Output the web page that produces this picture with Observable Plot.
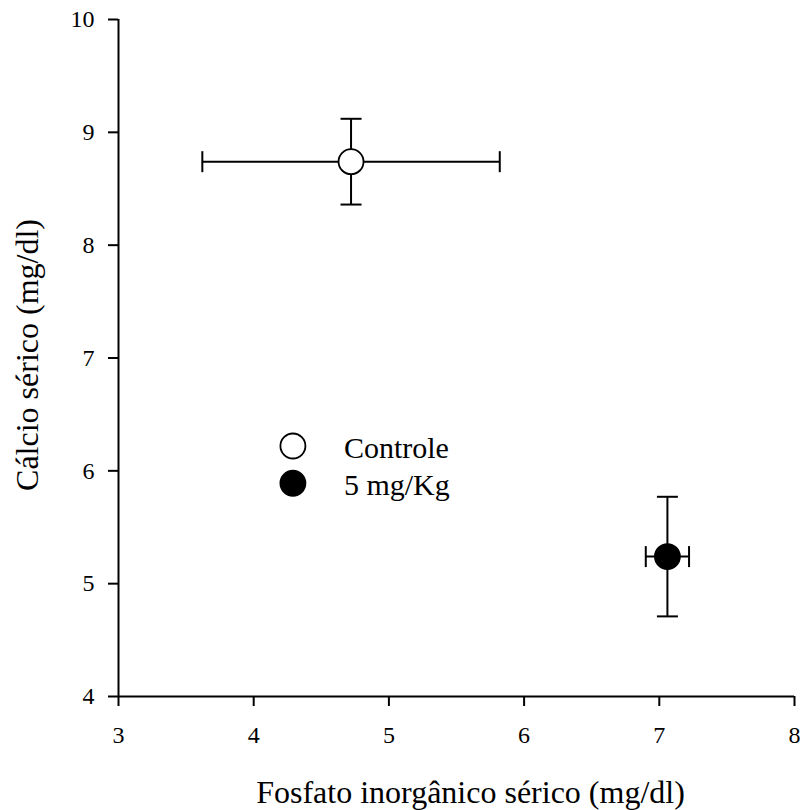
<!DOCTYPE html>
<html>
<head>
<meta charset="utf-8">
<script src="https://cdn.jsdelivr.net/npm/d3@7"></script>
<script src="https://cdn.jsdelivr.net/npm/@observablehq/plot@0.6"></script>
<style>
  html, body { margin: 0; padding: 0; background: #fff; }
  #chart svg { display: block; }
</style>
</head>
<body>
<div id="chart"></div>
<script>
// ---- data ----
const groups = ["Controle", "5 mg/Kg"];
const fosfato = [4.72, 7.06];      // mean, mg/dl
const fosfatoErr = [1.10, 0.16];   // error (±)
const calcio = [8.74, 5.24];       // mean, mg/dl
const calcioErr = [0.38, 0.53];    // error (±)
const xTicks = [3, 4, 5, 6, 7, 8];
const yTicks = [4, 5, 6, 7, 8, 9, 10];
const xLabel = "Fosfato inorgânico sérico (mg/dl)";
const yLabel = "Cálcio sérico (mg/dl)";

// ---- styling / layout ----
const fills = ["white", "black"];
const legendAnchor = {x: 4.29, y: [6.22, 5.89]};
const FONT = "Liberation Serif, Times New Roman, serif";

const rows = groups.map((g, i) => ({
  group: g,
  x: fosfato[i], xlo: fosfato[i] - fosfatoErr[i], xhi: fosfato[i] + fosfatoErr[i],
  y: calcio[i], ylo: calcio[i] - calcioErr[i], yhi: calcio[i] + calcioErr[i],
  fill: fills[i]
}));
const legendRows = groups.map((g, i) => ({group: g, x: legendAnchor.x, y: legendAnchor.y[i], fill: fills[i]}));

// cap symbols (lines of length 2r)
const hCap = {draw(ctx, size) { const h = Math.sqrt(size / Math.PI); ctx.moveTo(-h, 0); ctx.lineTo(h, 0); }};
const vCap = {draw(ctx, size) { const h = Math.sqrt(size / Math.PI); ctx.moveTo(0, -h); ctx.lineTo(0, h); }};

const capPts = [];
rows.forEach(d => {
  capPts.push({x: d.x, y: d.yhi, s: "h"}, {x: d.x, y: d.ylo, s: "h"});
  capPts.push({x: d.xlo, y: d.y, s: "v"}, {x: d.xhi, y: d.y, s: "v"});
});

const chart = Plot.plot({
  width: 804,
  height: 810,
  marginLeft: 118,
  marginRight: 10,
  marginTop: 19,
  marginBottom: 114,
  style: {fontFamily: FONT, color: "black", background: "white"},
  x: {domain: [3, 8]},
  y: {domain: [4, 10]},
  marks: [
    Plot.axisX({ticks: xTicks, tickFormat: () => "", tickSize: 10, strokeWidth: 2, label: null}),
    Plot.axisY({ticks: yTicks, tickFormat: () => "", tickSize: 10, strokeWidth: 2, label: null}),
    Plot.text(xTicks, {x: d => d, text: d => String(d), frameAnchor: "bottom", dy: 39, textAnchor: "middle", lineAnchor: "middle", fontSize: 24, fill: "black"}),
    Plot.text(yTicks, {y: d => d, text: d => String(d), frameAnchor: "left", dx: -24, textAnchor: "end", lineAnchor: "middle", fontSize: 24, fill: "black"}),
    Plot.ruleX([3], {y1: 4, y2: 10, strokeWidth: 2}),
    Plot.ruleY([4], {x1: 3, x2: 8, strokeWidth: 2}),
    // error bars
    Plot.ruleY(rows, {y: "y", x1: "xlo", x2: "xhi", strokeWidth: 2}),
    Plot.ruleX(rows, {x: "x", y1: "ylo", y2: "yhi", strokeWidth: 2}),
    Plot.dot(capPts.filter(d => d.s === "h"), {x: "x", y: "y", symbol: hCap, r: 10.5, stroke: "black", strokeWidth: 2, fill: "none"}),
    Plot.dot(capPts.filter(d => d.s === "v"), {x: "x", y: "y", symbol: vCap, r: 10.5, stroke: "black", strokeWidth: 2, fill: "none"}),
    // points
    Plot.dot(rows, {x: "x", y: "y", r: 12.5, fill: "fill", stroke: "black", strokeWidth: 1.8}),
    // legend
    Plot.dot(legendRows, {x: "x", y: "y", r: 12.5, fill: "fill", stroke: "black", strokeWidth: 1.8}),
    Plot.text(legendRows, {x: "x", y: "y", text: "group", dx: 51, dy: 2, textAnchor: "start", lineAnchor: "middle", fontSize: 30, fill: "black"}),
    // axis titles
    Plot.text([xLabel], {frameAnchor: "bottom", dx: 14, dy: 96, lineAnchor: "middle", textAnchor: "middle", fontSize: 32, fill: "black"}),
    Plot.text([yLabel], {frameAnchor: "left", dx: -91, dy: -3, rotate: -90, lineAnchor: "middle", textAnchor: "middle", fontSize: 32, fill: "black"})
  ]
});
document.getElementById("chart").appendChild(chart);
</script>
</body>
</html>
